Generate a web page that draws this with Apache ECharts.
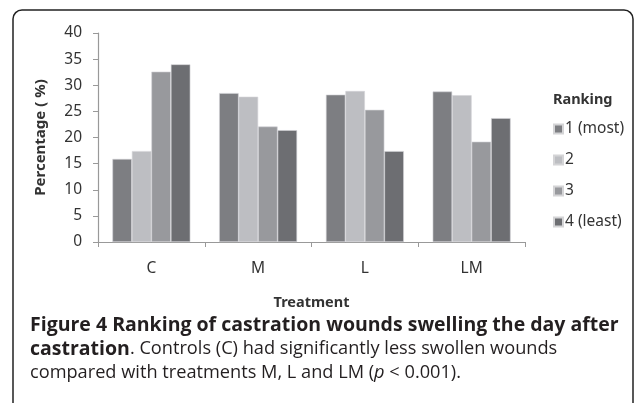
<!DOCTYPE html>
<html>
<head>
<meta charset="utf-8">
<script src="https://cdn.jsdelivr.net/npm/echarts@6/dist/echarts.min.js"></script>
<style>
  html, body { margin: 0; padding: 0; background: #fff; }
  #chart { width: 634px; height: 403px; }
</style>
</head>
<body>
<div id="chart"></div>
<script>
// treatments and ranking shares (%)
const treatments = ['C', 'M', 'L', 'LM'];
const rankNames = ['1 (most)', '2', '3', '4 (least)'];
const rank1 = [15.9, 28.5, 28.2, 28.8];
const rank2 = [17.4, 27.8, 28.9, 28.1];
const rank3 = [32.6, 22.1, 25.3, 19.2];
const rank4 = [34.0, 21.4, 17.4, 23.7];
const yTicks = [0, 5, 10, 15, 20, 25, 30, 35, 40];

const colors = ['#7d7e82', '#bdbec2', '#98999d', '#6d6e72'];
const chartFont = 'Noto Sans';

const chart = echarts.init(document.getElementById('chart'));

const seriesData = [rank1, rank2, rank3, rank4];

const option = {
  animation: false,
  color: colors,
  grid: {
    left: 98,
    top: 33,
    width: 427,
    height: 209,
  },
  legend: {
    orient: 'vertical',
    left: 548,
    top: 116,
    itemWidth: 9,
    itemHeight: 9,
    itemGap: 15,
    icon: 'rect',
    data: rankNames,
    textStyle: {
      fontFamily: chartFont,
      fontSize: 15.5,
      color: '#333',
      padding: [0, 0, 0, -3],
    },
  },
  xAxis: {
    type: 'category',
    data: treatments,
    name: 'Treatment',
    nameLocation: 'middle',
    nameGap: 53,
    nameTextStyle: {
      fontFamily: chartFont,
      fontSize: 14.5,
      fontWeight: 'bold',
      color: '#333',
    },
    axisLine: { lineStyle: { color: '#999', width: 1.2 } },
    axisTick: { show: true, length: 5, lineStyle: { color: '#999' } },
    axisLabel: {
      fontFamily: chartFont,
      fontSize: 15.5,
      color: '#333',
      margin: 19,
    },
  },
  yAxis: {
    type: 'value',
    min: yTicks[0],
    max: yTicks[yTicks.length - 1],
    interval: 5,
    name: 'Percentage ( %)',
    nameLocation: 'middle',
    nameGap: 50,
    nameTextStyle: {
      fontFamily: chartFont,
      fontSize: 15,
      fontWeight: 'bold',
      color: '#333',
    },
    axisLine: { show: true, lineStyle: { color: '#999', width: 1.2 } },
    axisTick: { show: true, length: 5, lineStyle: { color: '#999' } },
    splitLine: { show: false },
    axisLabel: {
      fontFamily: chartFont,
      fontSize: 15.5,
      color: '#333',
      margin: 16,
    },
  },
  series: seriesData.map((d, i) => ({
    name: rankNames[i],
    type: 'bar',
    data: d,
    barGap: '0%',
    barCategoryGap: '27%',
    itemStyle: {
      color: colors[i],
      borderColor: '#d4d4d6',
      borderWidth: 0.6,
    },
  })),
  graphic: [
    {
      // outer frame
      type: 'rect',
      shape: { x: 13, y: 10, width: 620, height: 460, r: 9 },
      style: { fill: 'none', stroke: '#222', lineWidth: 1.5 },
      silent: true,
    },
    {
      type: 'text',
      left: 553,
      top: 92,
      style: {
        text: 'Ranking',
        font: 'bold 14.5px "Noto Sans"',
        fill: '#333',
      },
    },
    {
      type: 'text',
      left: 30,
      top: 315,
      style: {
        text: '{b|Figure 4 Ranking of castration wounds swelling the day after}\n'
          + '{b|castration}{n|. Controls (C) had significantly less swollen wounds}\n'
          + '{n|compared with treatments M, L and LM (}{i|p}{n| < 0.001).}',
        rich: {
          b: { font: 'bold 19.5px "Open Sans"', fill: '#231f20', lineHeight: 24 },
          n: { font: '18.2px "Open Sans"', fill: '#231f20', lineHeight: 24 },
          i: { font: 'italic 18.2px "Open Sans"', fill: '#231f20', lineHeight: 24 },
        },
      },
    },
  ],
};

chart.setOption(option);
</script>
</body>
</html>
